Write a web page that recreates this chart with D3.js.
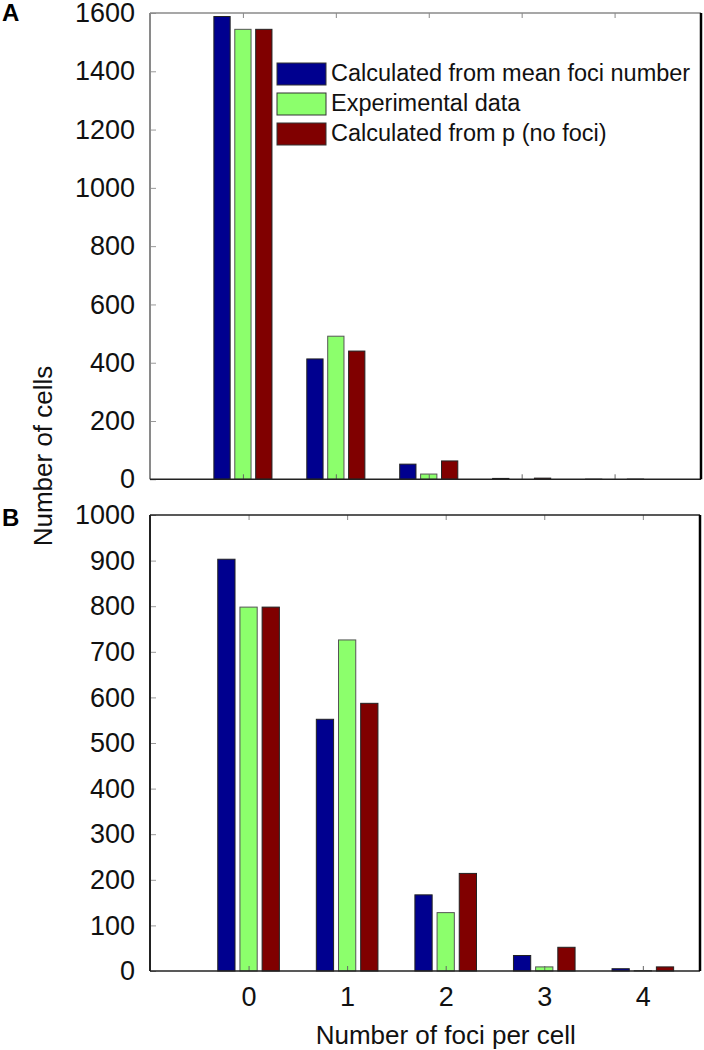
<!DOCTYPE html>
<html>
<head>
<meta charset="utf-8">
<script src="https://cdn.jsdelivr.net/npm/d3@7"></script>
<style>
  body { margin: 0; background: #fff; }
  svg { display: block; font-family: "Liberation Sans", Arial, sans-serif; }
</style>
</head>
<body>
<svg id="chart" width="704" height="1050"></svg>
<script>
// categories and series
const categories = [0, 1, 2, 3, 4];
const seriesNames = ["Calculated from mean foci number", "Experimental data", "Calculated from p (no foci)"];
const seriesColors = ["#00008f", "#8cff6c", "#800000"];

// panel A values
const aMean = [1588, 413, 52, 3, 0.5];
const aExp = [1544, 491, 18, 0, 0];
const aP = [1544, 440, 63, 4, 0.7];

// panel B values
const bMean = [903, 552, 167, 34, 5];
const bExp = [798, 726, 128, 9, 1];
const bP = [798, 587, 214, 52, 9];

const aTicks = d3.range(0, 1601, 200);
const bTicks = d3.range(0, 1001, 100);

const svg = d3.select("#chart");

function drawPanel(cfg) {
    const x = d3.scaleLinear().domain(cfg.xDomain).range([cfg.left, cfg.right]);
    const y = d3.scaleLinear().domain(cfg.yDomain).range([cfg.bottom, cfg.top]);
    const g = svg.append("g");

    const step = 0.225, barW = 0.175;

    cfg.series.forEach((vals, i) => {
        g.selectAll(null)
            .data(vals.map((v, j) => ({ cat: categories[j], v })))
            .enter()
            .append("rect")
            .attr("x", d => x(d.cat + (i - 1) * step - barW / 2))
            .attr("width", x(barW) - x(0))
            .attr("y", d => y(d.v))
            .attr("height", d => y(0) - y(d.v))
            .attr("fill", seriesColors[i])
            .attr("stroke", i === 1 ? "#555" : "#222")
            .attr("stroke-width", 1);
    });

    // y axis
    const yAxis = g.append("g")
        .attr("transform", `translate(${cfg.left},0)`)
        .call(d3.axisLeft(y).tickValues(cfg.yTicks).tickSize(-6).tickPadding(15).tickFormat(d3.format("d")));
    yAxis.select(".domain").remove();
    yAxis.selectAll("line").attr("stroke", "#999");
    yAxis.selectAll("text").attr("font-size", 27).attr("fill", "#111").attr("font-family", "Liberation Sans, Arial, sans-serif");

    // x axis bottom
    const xAxis = g.append("g")
        .attr("transform", `translate(0,${cfg.bottom})`)
        .call(d3.axisBottom(x).tickValues(categories).tickSize(-5).tickPadding(16).tickFormat(d3.format("d")));
    xAxis.select(".domain").remove();
    xAxis.selectAll("line").attr("stroke", "#666");
    xAxis.selectAll("text")
        .attr("font-size", 27).attr("fill", "#111")
        .attr("font-family", "Liberation Sans, Arial, sans-serif")
        .style("display", cfg.xLabels ? null : "none");

    // top ticks
    const xTop = g.append("g")
        .attr("transform", `translate(0,${cfg.top})`)
        .call(d3.axisTop(x).tickValues(categories).tickSize(-5).tickFormat(""));
    xTop.select(".domain").remove();
    xTop.selectAll("line").attr("stroke", "#888");

    // frame
    g.append("line").attr("x1", cfg.left).attr("x2", cfg.left).attr("y1", cfg.top).attr("y2", cfg.bottom)
        .attr("stroke", cfg.leftColor).attr("stroke-width", 2);
    g.append("line").attr("x1", cfg.left).attr("x2", cfg.right).attr("y1", cfg.top).attr("y2", cfg.top)
        .attr("stroke", cfg.topColor).attr("stroke-width", 1.5);
    g.append("line").attr("x1", cfg.left).attr("x2", cfg.right).attr("y1", cfg.bottom).attr("y2", cfg.bottom)
        .attr("stroke", "#222").attr("stroke-width", 1.5);
    g.append("line").attr("x1", cfg.right).attr("x2", cfg.right).attr("y1", cfg.top).attr("y2", cfg.bottom)
        .attr("stroke", "#000").attr("stroke-width", 2.5);

    // panel letter
    g.append("text")
        .attr("x", 2).attr("y", cfg.letterY)
        .attr("font-size", 24).attr("font-weight", "bold")
        .text(cfg.letter);

    return { g, x, y };
}

const panelA = drawPanel({
    xDomain: [-1, 4.93], yDomain: [0, 1600],
    left: 150, right: 701, top: 13, bottom: 479.3,
    series: [aMean, aExp, aP], yTicks: aTicks, xLabels: false,
    leftColor: "#8a8a8a", topColor: "#8a8a8a",
    letter: "A", letterY: 21
});

const panelB = drawPanel({
    xDomain: [-1, 4.58], yDomain: [0, 1000],
    left: 150, right: 700, top: 515, bottom: 971,
    series: [bMean, bExp, bP], yTicks: bTicks, xLabels: true,
    leftColor: "#222", topColor: "#222",
    letter: "B", letterY: 526
});

// legend (inside panel A)
const legend = svg.append("g");
legend.append("rect")
    .attr("x", 274).attr("y", 56).attr("width", 424).attr("height", 104)
    .attr("fill", "#fff");
seriesNames.forEach((name, i) => {
    const cy = 74 + i * 30;
    legend.append("rect")
        .attr("x", 277).attr("y", cy - 11).attr("width", 49).attr("height", 22)
        .attr("fill", seriesColors[i]).attr("stroke", "#333").attr("stroke-width", 1);
    legend.append("text")
        .attr("x", 331).attr("y", cy + 7)
        .attr("font-size", 23.5).attr("fill", "#111")
        .text(name);
});

// axis titles
svg.append("text")
    .attr("transform", "translate(52,456) rotate(-90)")
    .attr("text-anchor", "middle")
    .attr("font-size", 26).attr("fill", "#111")
    .text("Number of cells");

svg.append("text")
    .attr("x", panelB.x(2)).attr("y", 1044)
    .attr("text-anchor", "middle")
    .attr("font-size", 26).attr("fill", "#111")
    .text("Number of foci per cell");
</script>
</body>
</html>
